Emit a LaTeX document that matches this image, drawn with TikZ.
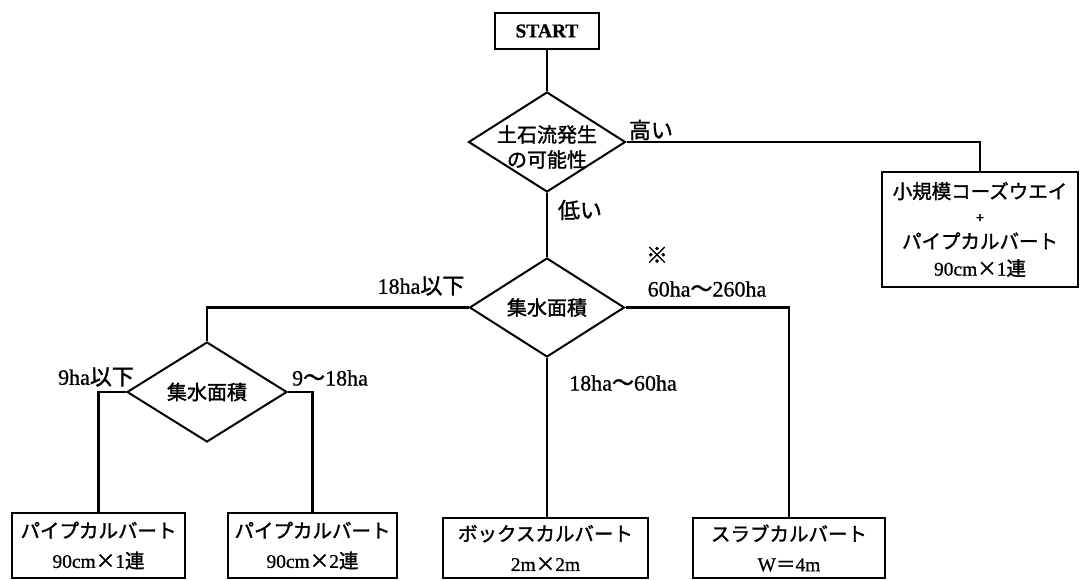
\documentclass[tikz,border=0pt]{standalone}
\usepackage{fontspec}
\setmainfont{Liberation Serif}[FakeBold=0.8]
\newfontfamily\jp{Noto Sans CJK JP}[FakeBold=1.5]
\newcommand\J[1]{{\jp #1}}
\usetikzlibrary{shapes.geometric}
\begin{document}
\begin{tikzpicture}[x=1pt,y=-1pt,
  box/.style={draw, rectangle, line width=2pt, inner sep=0pt, align=center, font=\fontsize{19.5}{30}\selectfont},
  dia/.style={draw, diamond, line width=2pt, inner sep=0pt},
  diatext/.style={align=center, font=\jp\fontsize{20}{25}\selectfont, inner sep=0pt},
  lbl/.style={font=\fontsize{22}{24}\selectfont, inner sep=0pt},
  conn/.style={line width=2.2pt}]
\fill[white] (0,0) rectangle (1080,580);
\useasboundingbox (0,0) rectangle (1080,580);

% nodes
\node[box, minimum width=104pt, minimum height=36pt, font=\fontsize{19.5}{22}\selectfont\bfseries] (start) at (547,31) {START};
\node[dia, minimum width=157pt, minimum height=100pt,
  label={[diatext, yshift=-5pt]center:{土石流発生\\の可能性}}] (d1) at (547,142) {};
\node[box, minimum width=196pt, minimum height=115pt, font=\fontsize{19.5}{27}\selectfont] (rb) at (980,229.5)
  {\J{小規模コーズウエイ}\\[-3pt] {\fontsize{15}{15}\selectfont\bfseries +}\\[-1pt] \J{パイプカルバート}\\ 90cm\J{×}1\J{連}};
\node[dia, minimum width=155pt, minimum height=99pt,
  label={[diatext]center:{集水面積}}] (d2) at (547,307.5) {};
\node[dia, minimum width=160pt, minimum height=100pt,
  label={[diatext]center:{集水面積}}] (d3) at (207,392) {};

\node[box, minimum width=173pt, minimum height=65pt] (b1) at (98.5,545.5) {\J{パイプカルバート}\\ 90cm\J{×}1\J{連}};
\node[box, minimum width=169pt, minimum height=65pt] (b2) at (312.5,545.5) {\J{パイプカルバート}\\ 90cm\J{×}2\J{連}};
\node[box, minimum width=205pt, minimum height=60pt] (b3) at (545.5,548) {\J{ボックスカルバート}\\ 2m\J{×}2m};
\node[box, minimum width=192pt, minimum height=60pt] (b4) at (789,548) {\J{スラブカルバート}\\ W\J{＝}4m};

% labels
\node[lbl] (lhigh) at (651,130) {\J{高い}};
\node[lbl] (llow) at (580,210) {\J{低い}};
\node[lbl] (lnote) at (657,255) {\J{※}};
\node[lbl] (l60) at (707,289) {60ha\J{～}260ha};
\node[lbl] (l18) at (421,286) {18ha\J{以下}};
\node[lbl] (l1860) at (623,383) {18ha\J{～}60ha};
\node[lbl] (l9) at (96,377) {9ha\J{以下}};
\node[lbl] (l918) at (330,378) {9\J{～}18ha};

% connectors
\draw[conn] (start) -- (d1);
\draw[conn] (d1.east) -| (rb.north);
\draw[conn] (d1) -- (d2);
\draw[conn] (d2.west) -| (d3.north);
\draw[conn] (d2.east) -| (b4.north);
\draw[conn] (d2.south) -- (d2.south |- b3.north);
\draw[conn] (d3.west) -| (b1.north);
\draw[conn] (d3.east) -| (b2.north);
\end{tikzpicture}
\end{document}
